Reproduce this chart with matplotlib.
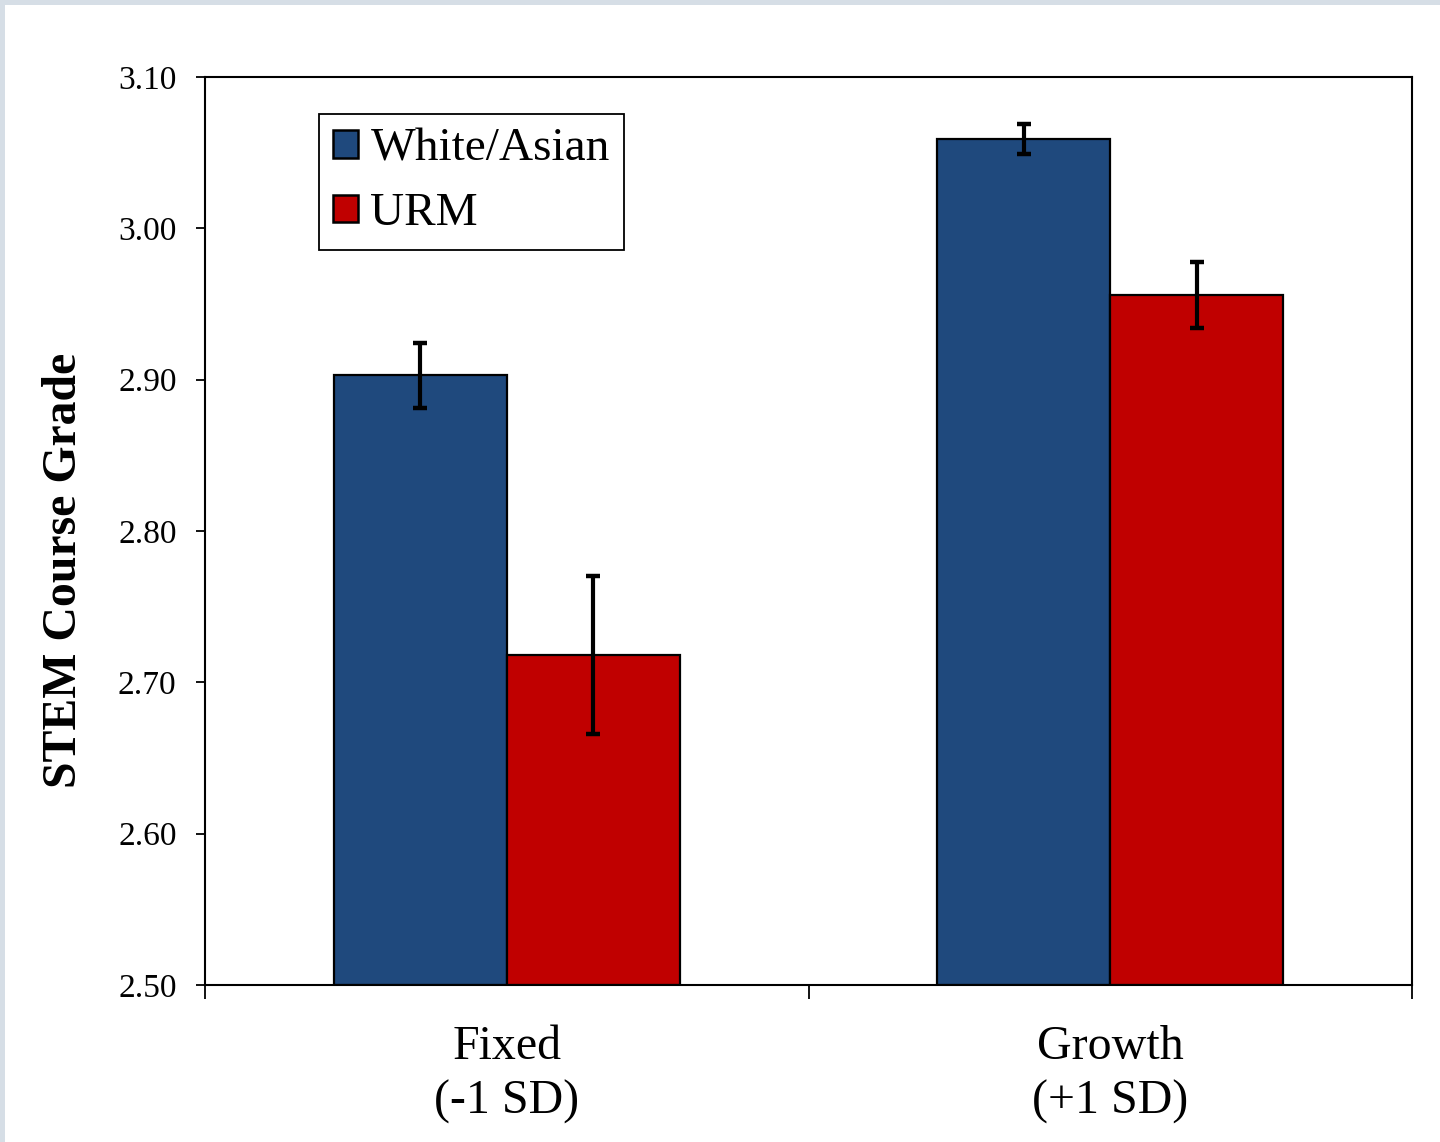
import matplotlib
matplotlib.use("Agg")
import matplotlib.pyplot as plt
from matplotlib.patches import Rectangle
import numpy as np

plt.rcParams['font.family'] = ['Liberation Serif', 'DejaVu Serif']

# Mindset groups and student groups
categories = ["Fixed\n(-1 SD)", "Growth\n(+1 SD)"]
groups = ["White/Asian", "URM"]
means = {
    "White/Asian": [2.903, 3.059],
    "URM": [2.718, 2.956],
}
errors = {
    "White/Asian": [0.0215, 0.010],
    "URM": [0.052, 0.022],
}
colors = {"White/Asian": "#1F497D", "URM": "#C00000"}
y_ticks = [2.50, 2.60, 2.70, 2.80, 2.90, 3.00, 3.10]

fig = plt.figure(figsize=(14.4, 11.42), dpi=100)
fig.patch.set_facecolor("white")

# thin frame along the top and left edge of the canvas
W, H = 1440, 1142
fig.patches.append(Rectangle((0, 1 - 5 / H), 1, 5 / H, transform=fig.transFigure,
                             facecolor="#d6dee6", edgecolor="none", zorder=0))
fig.patches.append(Rectangle((0, 0), 5 / W, 1, transform=fig.transFigure,
                             facecolor="#d6dee6", edgecolor="none", zorder=0))

ax = fig.add_axes([205 / W, 1 - 985 / H, (1412 - 205) / W, (985 - 77) / H])

x = np.arange(len(categories))
width = 0.287
offsets = {"White/Asian": -width / 2, "URM": width / 2}

for g in groups:
    ax.bar(x + offsets[g], np.array(means[g]) - 2.5, width, bottom=2.5,
           color=colors[g], edgecolor="black", linewidth=1.6, label=g, zorder=2)
    ax.errorbar(x + offsets[g], means[g], yerr=errors[g], fmt="none",
                ecolor="black", elinewidth=3.0, capsize=5, capthick=3.2, zorder=3)

ax.set_xlim(-0.5, 1.5)
ax.set_ylim(2.50, 3.10)
ax.set_yticks(y_ticks)
ax.set_yticklabels([f"{v:.2f}" for v in y_ticks])

# category separators as major ticks, category names on minor ticks
ax.set_xticks([-0.5, 0.5, 1.5])
ax.set_xticklabels(["", "", ""])
ax.set_xticks(x, minor=True)
ax.set_xticklabels(categories, minor=True, fontsize=34.5, linespacing=1.3)
ax.tick_params(axis="x", which="major", direction="out", length=10, width=1.3)
ax.tick_params(axis="x", which="minor", length=0, pad=29)
ax.tick_params(axis="y", direction="out", length=6.5, width=1.3, labelsize=24, pad=14)

for s in ax.spines.values():
    s.set_linewidth(1.5)
    s.set_color("black")

ax.set_ylabel("STEM Course Grade", fontsize=34.4, fontweight="bold", va="center")
ax.yaxis.set_label_coords((64 - 205) / (1412 - 205), (985 - 570) / 908)

leg = ax.legend(loc="upper left", bbox_to_anchor=((319 - 205) / 1207, (985 - 114) / 908),
                borderaxespad=0, fontsize=34, fancybox=False, frameon=True,
                framealpha=1, edgecolor="black", handlelength=0.52, handleheight=0.52,
                handletextpad=0.27, borderpad=0.3, labelspacing=0.47)
leg.get_frame().set_linewidth(1.3)
leg.get_frame().set_edgecolor("black")
for h in leg.legend_handles:
    h.set_linewidth(1.8)

fig.savefig("out.png", dpi=100, facecolor=fig.get_facecolor())
